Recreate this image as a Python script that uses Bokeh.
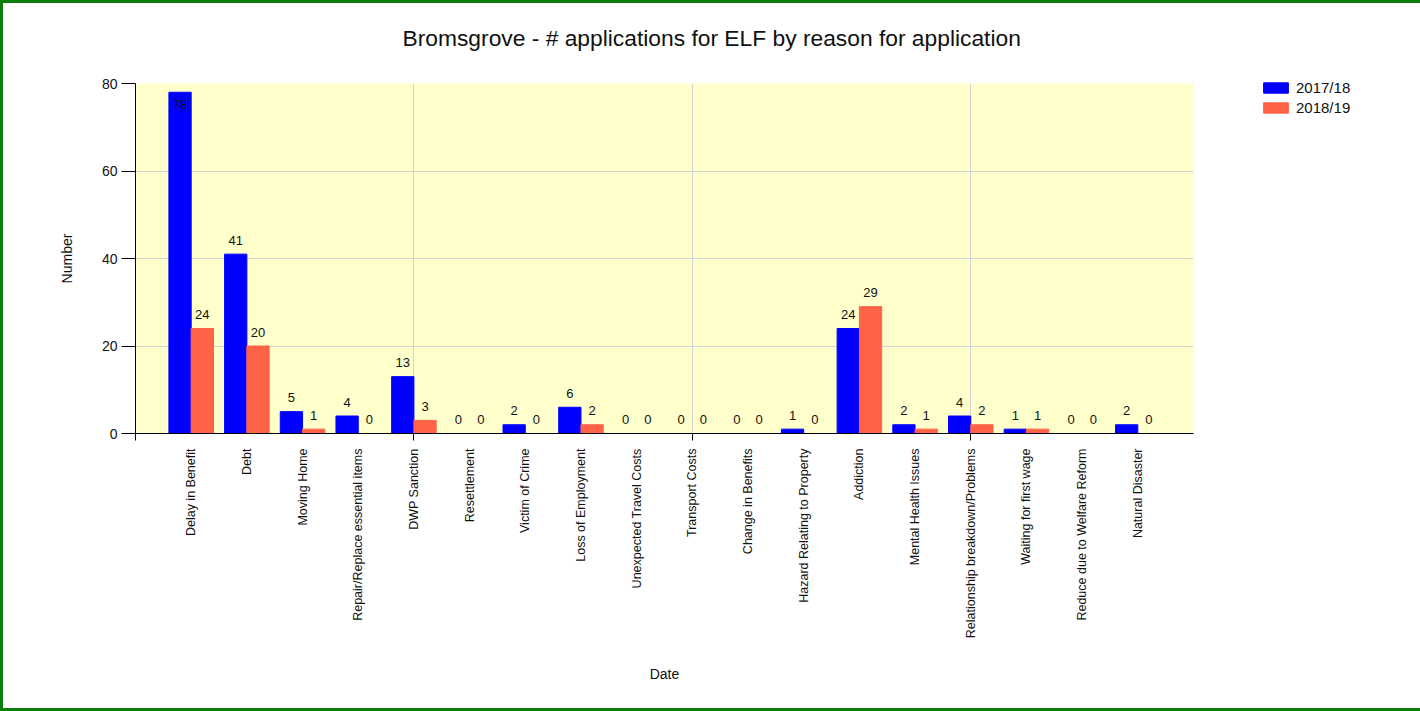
import numpy as np
from bokeh.plotting import figure
from bokeh.models import ColumnDataSource, FixedTicker, Range1d, Legend, LegendItem, Title
from bokeh.core.properties import value
from bokeh.embed import file_html
from bokeh.resources import INLINE

# ---- data ----
categories = [
    "Delay in Benefit", "Debt", "Moving Home", "Repair/Replace essential items",
    "DWP Sanction", "Resettlement", "Victim of Crime", "Loss of Employment",
    "Unexpected Travel Costs", "Transport Costs", "Change in Benefits",
    "Hazard Relating to Property", "Addiction", "Mental Health Issues",
    "Relationship breakdown/Problems", "Waiting for first wage",
    "Reduce due to Welfare Reform", "Natural Disaster",
]
series_names = ["2017/18", "2018/19"]
values_1718 = [78, 41, 5, 4, 13, 0, 2, 6, 0, 0, 0, 1, 24, 2, 4, 1, 0, 2]
values_1819 = [24, 20, 1, 0, 3, 0, 0, 2, 0, 0, 0, 0, 29, 1, 2, 1, 0, 0]
y_ticks = [0, 20, 40, 60, 80]
x_grid_ticks = [5, 10, 15]
x_minor_ticks = [0, 5, 10, 15]

FONT = "Liberation Sans"
colors = ["#0000FF", "#FF6347"]
Y_MAX = 80

p = figure(
    width=1414, height=705, frame_width=1058, frame_height=350,
    x_range=Range1d(0, len(categories) + 1), y_range=Range1d(0, Y_MAX),
    output_backend="svg", toolbar_location=None,
    min_border_left=132, min_border_right=224, min_border_top=80, min_border_bottom=275,
    title="Bromsgrove - # applications for ELF by reason for application",
)
p.styles = {"border": "3px solid #0B7D0B"}
p.background_fill_color = "#FFFFCC"
p.border_fill_color = "white"
p.outline_line_color = None

p.title.align = "left"
p.title.offset = 267
p.title.vertical_align = "top"
p.title.text_font = FONT
p.title.text_font_size = "22.8px"
p.title.text_font_style = "normal"
p.title.text_color = "#111111"
p.title.standoff = 42

# thin blank spacer between the title and the plot area
p.add_layout(Title(text=" ", text_font_size="1px", standoff=7), "above")

centers = np.arange(1, len(categories) + 1)
offsets = [-0.2, 0.2]
renderers = []
for name, vals, off, col in zip(series_names, [values_1718, values_1819], offsets, colors):
    vals = list(vals)
    inside = [v > Y_MAX * 0.93 for v in vals]
    src = ColumnDataSource(dict(
        x=centers + off,
        top=vals,
        label=[str(v) for v in vals],
        yoff=[12 if i else -14 for i in inside],
    ))
    r = p.vbar(x="x", top="top", bottom=0, width=0.4, source=src,
               fill_color=col, line_color=col)
    renderers.append(r)
    p.text(x="x", y="top", text="label", source=src, text_align="center",
           text_baseline="alphabetic", y_offset="yoff",
           text_font=value(FONT), text_font_size="13px", text_color="#111111")

# grid
p.xgrid.ticker = FixedTicker(ticks=x_grid_ticks)
p.ygrid.ticker = FixedTicker(ticks=y_ticks[1:])
p.xgrid.grid_line_color = "#D3D3D3"
p.ygrid.grid_line_color = "#D3D3D3"

# x axis
xa = p.xaxis[0]
xa.ticker = FixedTicker(ticks=list(centers), minor_ticks=x_minor_ticks)
xa.major_label_overrides = {int(c): cat for c, cat in zip(centers, categories)}
xa.major_label_orientation = np.pi / 2
xa.major_tick_out = 0
xa.major_tick_in = 0
xa.minor_tick_out = 7
xa.minor_tick_in = 0
xa.minor_tick_line_color = "black"
xa.axis_line_color = "black"
xa.major_label_standoff = 8
xa.major_label_text_font = FONT
xa.major_label_text_font_size = "12.5px"
xa.major_label_text_color = "#111111"
xa.axis_label = "Date"
xa.axis_label_text_font = FONT
xa.axis_label_text_font_size = "14px"
xa.axis_label_text_font_style = "normal"
xa.axis_label_text_color = "#111111"
xa.axis_label_standoff = 25

# y axis
ya = p.yaxis[0]
ya.ticker = FixedTicker(ticks=y_ticks)
ya.major_tick_out = 14
ya.major_tick_in = 0
ya.minor_tick_out = 0
ya.minor_tick_in = 0
ya.axis_line_color = "black"
ya.major_tick_line_color = "black"
ya.major_label_standoff = 4
ya.major_label_text_font = FONT
ya.major_label_text_font_size = "14px"
ya.major_label_text_color = "#111111"
ya.axis_label = "Number"
ya.axis_label_text_font = FONT
ya.axis_label_text_font_size = "14px"
ya.axis_label_text_font_style = "normal"
ya.axis_label_text_color = "#111111"
ya.axis_label_standoff = 24

legend = Legend(
    items=[LegendItem(label=n, renderers=[r]) for n, r in zip(series_names, renderers)],
    location=(67, 316),
    padding=0, spacing=0, margin=0,
    glyph_width=31, glyph_height=13, label_height=20, label_standoff=5,
    label_text_font=FONT, label_text_font_size="15px", label_text_color="#111111",
    background_fill_alpha=0, border_line_color=None,
)
p.add_layout(legend, "right")

open("out.html", "w").write(file_html(p, INLINE))
